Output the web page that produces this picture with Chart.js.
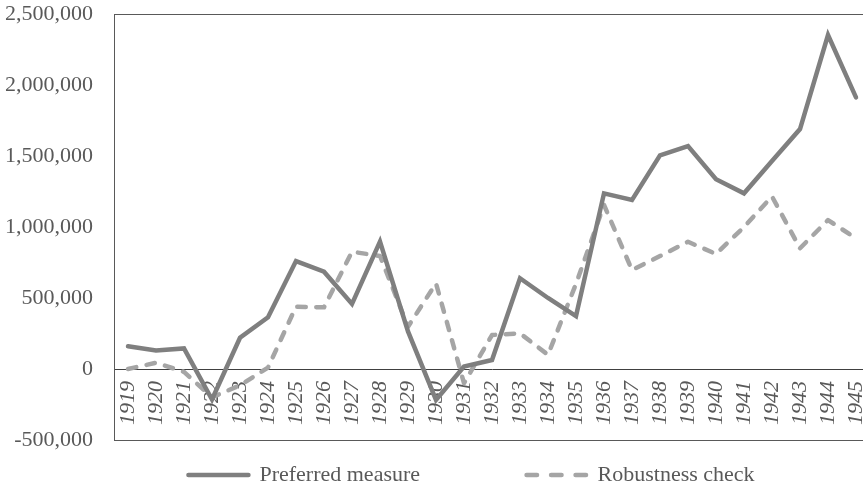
<!DOCTYPE html>
<html><head><meta charset="utf-8">
<script src="https://cdn.jsdelivr.net/npm/chart.js@4"></script>
<style>html,body{margin:0;padding:0;overflow:hidden;background:#fff}#wrap{width:872px;height:486px}</style>
</head><body><div id="wrap"><canvas id="c" width="872" height="486"></canvas></div>
<script>
const years = ['1919','1920','1921','1922','1923','1924','1925','1926','1927','1928','1929','1930','1931','1932','1933','1934','1935','1936','1937','1938','1939','1940','1941','1942','1943','1944','1945'];
const preferred = [160000,130000,145000,-215000,220000,364000,760000,685000,458000,897000,265000,-218000,18000,63000,639000,500000,373000,1237000,1190000,1505000,1570000,1336000,1237000,1465000,1690000,2352000,1913000];
const robustness = [0,44000,-20000,-200000,-115000,10000,439000,434000,826000,796000,298000,603000,-100000,239000,251000,100000,600000,1155000,697000,795000,896000,810000,1000000,1215000,850000,1049000,920000];
const seriesNames = ['Preferred measure','Robustness check'];
const yMin = -500000, yMax = 2500000, yStep = 500000;

const frame = {
  id: 'frame',
  beforeDatasetsDraw(chart) {
    const {ctx, chartArea: a} = chart;
    ctx.save();
    ctx.strokeStyle = '#595959';
    ctx.lineWidth = 1;
    ctx.strokeRect(Math.round(a.left) + 0.5, Math.round(a.top) + 0.5, Math.round(a.right - a.left), Math.round(a.bottom - a.top));
    ctx.restore();
  }
};
const legendShift = {
  id: 'legendShift',
  afterLayout(chart) {
    const l = chart.legend;
    if (l) { l.left += 34; l.right += 34; }
  }
};
const noPad = s => { s.paddingLeft = 0; s.paddingRight = 0; s.paddingTop = 0; s.paddingBottom = 0; };

const serif = "'Liberation Serif', 'Times New Roman', serif";
new Chart(document.getElementById('c'), {
  type: 'line',
  data: {
    labels: years,
    datasets: [
      { label: seriesNames[0], data: preferred, borderColor: '#7f7f7f', backgroundColor: '#7f7f7f', borderWidth: 4.5, pointRadius: 0, tension: 0, borderCapStyle: 'round', borderJoinStyle: 'miter' },
      { label: seriesNames[1], data: robustness, borderColor: '#a5a5a5', backgroundColor: '#a5a5a5', borderWidth: 4.5, pointRadius: 0, tension: 0, borderDash: [8.5, 10.5], borderCapStyle: 'round', borderJoinStyle: 'round' }
    ]
  },
  options: {
    responsive: false,
    animation: false,
    layout: { padding: { left: 5, top: 14, right: 2, bottom: -10 } },
    scales: {
      x: {
        type: 'category',
        offset: true,
        position: { y: 0 },
        afterFit: s => { noPad(s); s.height = 0; },
        grid: { display: false, drawTicks: false },
        border: { display: true, color: '#404040', width: 1 },
        ticks: { autoSkip: false, minRotation: 90, maxRotation: 90, padding: 12, color: '#595959', font: { family: serif, size: 22, style: 'italic' } }
      },
      y: {
        min: yMin, max: yMax,
        afterFit: s => { noPad(s); s.width = 109; },
        grid: { display: false, drawTicks: false },
        border: { display: false },
        ticks: { stepSize: yStep, padding: 21, color: '#595959', font: { family: serif, size: 22 }, callback: v => v.toLocaleString('en-US') }
      }
    },
    plugins: {
      tooltip: { enabled: false },
      legend: {
        position: 'bottom',
        labels: {
          usePointStyle: true,
          pointStyle: 'line',
          pointStyleWidth: 60,
          padding: 24,
          color: '#595959',
          font: { family: serif, size: 22 },
          generateLabels(chart) {
            const items = Chart.defaults.plugins.legend.labels.generateLabels(chart);
            items.forEach((it, i) => {
              const ds = chart.data.datasets[i];
              it.lineWidth = ds.borderWidth;
              it.lineCap = 'round';
              it.strokeStyle = ds.borderColor;
              it.lineDash = ds.borderDash ? [10.5, 14] : [];
            });
            items[0].text = items[0].text + '\u2003\u2003\u2003   ';
            return items;
          }
        }
      }
    }
  },
  plugins: [frame, legendShift]
});
</script></body></html>
